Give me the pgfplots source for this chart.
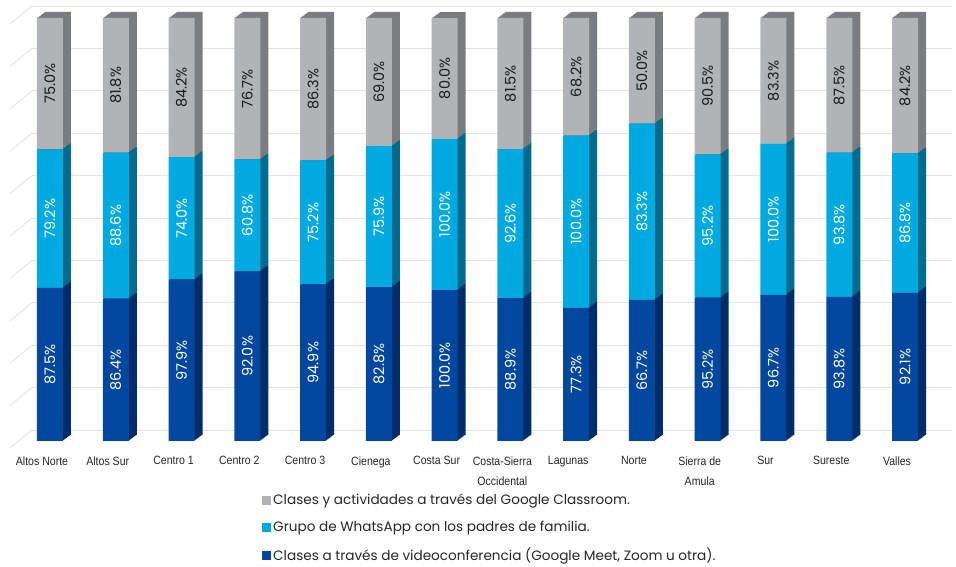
\documentclass[border=0pt]{standalone}
\usepackage{fontspec}
\setmainfont{Poppins}
\newfontfamily\catfont[FakeStretch=0.88]{Liberation Sans}
\usepackage{pgfplots}
\usepackage{pgfplotstable}
\pgfplotsset{compat=1.18}

\definecolor{gryF}{HTML}{B1B3B6}
\definecolor{gryS}{HTML}{7A7C7F}
\definecolor{cyaF}{HTML}{00A9E0}
\definecolor{cyaS}{HTML}{006B8E}
\definecolor{bluF}{HTML}{00479D}
\definecolor{bluS}{HTML}{002D69}
\definecolor{gridc}{HTML}{E3E3E3}

% a = videoconferencia, b = WhatsApp, c = Google Classroom
\pgfplotstableread{
x a b c
0 87.5 79.2 75.0
1 86.4 88.6 81.8
2 97.9 74.0 84.2
3 92.0 60.8 76.7
4 94.9 75.2 86.3
5 82.8 75.9 69.0
6 100.0 100.0 80.0
7 88.9 92.6 81.5
8 77.3 100.0 68.2
9 66.7 83.3 50.0
10 95.2 95.2 90.5
11 96.7 100.0 83.3
12 93.8 93.8 87.5
13 92.1 86.8 84.2
}\data
% share of each segment in the 100% bar, and segment midpoints for the labels
\pgfplotstablecreatecol[create col/expr={100*\thisrow{a}/(\thisrow{a}+\thisrow{b}+\thisrow{c})}]{na}\data
\pgfplotstablecreatecol[create col/expr={100*\thisrow{b}/(\thisrow{a}+\thisrow{b}+\thisrow{c})}]{nb}\data
\pgfplotstablecreatecol[create col/expr={100*\thisrow{c}/(\thisrow{a}+\thisrow{b}+\thisrow{c})}]{nc}\data
\pgfplotstablecreatecol[create col/expr={\thisrow{na}/2}]{ma}\data
\pgfplotstablecreatecol[create col/expr={\thisrow{na}+\thisrow{nb}/2}]{mb}\data
\pgfplotstablecreatecol[create col/expr={\thisrow{na}+\thisrow{nb}+\thisrow{nc}/2}]{mc}\data

\pgfplotsset{
  /pgf/number format/assume math mode=true,
  base/.style={scale only axis, width=920.8pt, height=423pt,
    xmin=-0.5, xmax=13.5, ymin=0, ymax=100,
    axis line style={draw=none}, major tick style={draw=none},
    xtick=\empty, ytick=\empty, clip=false},
  sqlegend/.style={legend image code/.code={\fill[##1] (0pt,-4.5pt) rectangle (9pt,4.5pt);}},
}

\begin{document}
\begin{tikzpicture}
\useasboundingbox (0,0) rectangle (956pt,567pt);

% back wall grid
\begin{axis}[base, at={(32pt,137pt)}, width=920pt, height=424pt,
  ytick={0,10,...,100}, yticklabels={}, ymajorgrids,
  grid style={gridc, line width=0.8pt}]
\pgfplotsinvokeforeach{0,10,...,100}{
  \draw[gridc, line width=0.8pt] (axis cs:-0.5,#1) -- ++(-22pt,-18pt);
}
\end{axis}

% depth of the bars
\foreach \k in {8,7,...,1}{
  \pgfmathsetmacro\dy{0.75*\k}
  \begin{axis}[base, at={(17.1pt+\k pt,126pt+\dy pt)}, ybar stacked, bar width=26pt]
  \addplot[fill=bluS, draw=none] table[x=x, y=na] {\data};
  \addplot[fill=cyaS, draw=none] table[x=x, y=nb] {\data};
  \addplot[fill=gryS, draw=none] table[x=x, y=nc] {\data};
  \end{axis}
}

% front faces
\begin{axis}[base, at={(17.1pt,126pt)}, ybar stacked, bar width=26pt,
  every axis plot post/.append style={sqlegend},
  xtick={0,...,13},
  xticklabels={Altos Norte, Altos Sur, Centro 1, Centro 2, Centro 3, Cienega,
    Costa Sur, {Costa-Sierra\\Occidental}, Lagunas, Norte, {Sierra de\\Amula},
    Sur, Sureste, Valles},
  xticklabel style={font=\catfont\fontsize{12}{20}\selectfont, align=center,
    anchor=north, xshift=-8pt, yshift=-12pt, text=black!85},
  reverse legend,
  legend cell align=left,
  legend style={at={(axis description cs:0.266,-0.12)}, anchor=north west,
    draw=none, fill=none, inner sep=0pt, row sep=11pt,
    font=\fontsize{13.6}{15}\selectfont, text=black!85},
]
\addplot[fill=bluF, draw=none] table[x=x, y=na] {\data};
\addlegendentry{Clases a través de videoconferencia (Google Meet, Zoom u otra).}
\addplot[fill=cyaF, draw=none] table[x=x, y=nb] {\data};
\addlegendentry{Grupo de WhatsApp con los padres de familia.}
\addplot[fill=gryF, draw=none] table[x=x, y=nc] {\data};
\addlegendentry{Clases y actividades a través del Google Classroom.}
\end{axis}

% value labels
\begin{axis}[base, at={(17.1pt,126pt)}, point meta=explicit,
  nodes near coords={\pgfmathprintnumber[fixed, fixed zerofill, precision=1]{\pgfplotspointmeta}\%},
  every node near coord/.append style={rotate=90, anchor=center,
    font=\fontsize{14.5}{14}\selectfont}]
\addplot[draw=none, mark=none, nodes near coords style={text=white}] table[x=x, y=ma, meta=a] {\data};
\addplot[draw=none, mark=none, nodes near coords style={text=white}] table[x=x, y=mb, meta=b] {\data};
\addplot[draw=none, mark=none, nodes near coords style={text=black!90}] table[x=x, y=mc, meta=c] {\data};
\end{axis}
\end{tikzpicture}
\end{document}
